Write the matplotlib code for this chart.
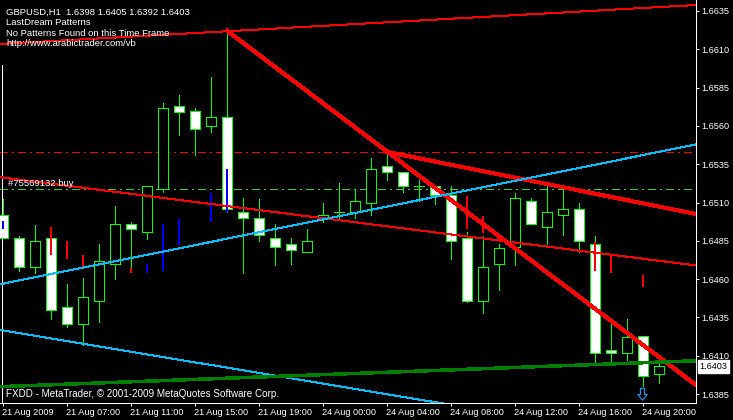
import matplotlib
matplotlib.use('Agg')
import matplotlib.pyplot as plt
import numpy as np
from matplotlib.path import Path
from matplotlib.transforms import offset_copy, ScaledTranslation

W, H, DPI = 733, 420, 100

# ---------------- data ----------------
bars = list(range(42))
opens = [1.6502, 1.6487, 1.6468, 1.6487, 1.6442, 1.6431, 1.6446, 1.6470, 1.6496, 1.6491,
         1.6519, 1.6573, 1.6570, 1.6560, 1.6566, 1.6504, 1.6500, 1.6487, 1.6483, 1.6478,
         1.6500, 1.6504, 1.6504, 1.6510, 1.6534, 1.6530, 1.6521, 1.6521, 1.6515, 1.6487,
         1.6446, 1.6470, 1.6481, 1.6511, 1.6494, 1.6502, 1.6506, 1.6483, 1.6414, 1.6412,
         1.6423, 1.6398]
highs = [1.6512, 1.6488, 1.6495, 1.6487, 1.6457, 1.6461, 1.6483, 1.6508, 1.6497, 1.6521,
         1.6575, 1.6580, 1.6572, 1.6592, 1.6622, 1.6513, 1.6512, 1.6496, 1.6487, 1.6493,
         1.6510, 1.6523, 1.6519, 1.6539, 1.6543, 1.6530, 1.6525, 1.6521, 1.6521, 1.6491,
         1.6488, 1.6483, 1.6516, 1.6513, 1.6521, 1.6519, 1.6510, 1.6488, 1.6431, 1.6434,
         1.6423, 1.6405]
lows = [1.6487, 1.6465, 1.6464, 1.6434, 1.6429, 1.6417, 1.6432, 1.6460, 1.6468, 1.6486,
        1.6517, 1.6554, 1.6541, 1.6556, 1.6504, 1.6464, 1.6485, 1.6469, 1.6470, 1.6478,
        1.6497, 1.6499, 1.6500, 1.6502, 1.6525, 1.6517, 1.6511, 1.6509, 1.6473, 1.6445,
        1.6438, 1.6453, 1.6469, 1.6496, 1.6483, 1.6489, 1.6478, 1.6405, 1.6406, 1.6407,
        1.6390, 1.6392]
closes = [1.6487, 1.6468, 1.6485, 1.6440, 1.6431, 1.6448, 1.6472, 1.6496, 1.6493, 1.6521,
          1.6572, 1.6569, 1.6558, 1.6566, 1.6506, 1.6500, 1.6489, 1.6481, 1.6479, 1.6485,
          1.6502, 1.6504, 1.6511, 1.6532, 1.6530, 1.6521, 1.6521, 1.6515, 1.6485, 1.6446,
          1.6468, 1.6480, 1.6513, 1.6496, 1.6504, 1.6506, 1.6485, 1.6412, 1.6412, 1.6422,
          1.6397, 1.6403]

xtick_bars = [0, 4, 8, 12, 16, 20, 24, 28, 32, 36, 40]
xtick_labels = ['21 Aug 2009', '21 Aug 07:00', '21 Aug 11:00', '21 Aug 15:00',
                '21 Aug 19:00', '24 Aug 00:00', '24 Aug 04:00', '24 Aug 08:00',
                '24 Aug 12:00', '24 Aug 16:00', '24 Aug 20:00']
ytick_values = [1.6385, 1.6410, 1.6435, 1.6460, 1.6485, 1.6510, 1.6535,
                1.6560, 1.6585, 1.6610, 1.6635]

# indicator histogram bars
red_idx = [3, 4, 5, 8, 29, 30, 37, 38, 40]
red_lo = [1.6476, 1.6473, 1.6467, 1.6464, 1.6493, 1.6490, 1.6465, 1.6464, 1.6455]
red_hi = [1.6494, 1.6485, 1.6476, 1.6467, 1.6514, 1.6501, 1.6484, 1.6475, 1.6463]
blue_idx = [0, 9, 10, 11, 13, 14]
blue_lo = [1.6493, 1.6464, 1.6465, 1.6482, 1.6497, 1.6504]
blue_hi = [1.6498, 1.6470, 1.6496, 1.6499, 1.6516, 1.6532]

# trend lines: (bar0, price0, bar1, price1)
thin_red_lines = [(-0.21, 1.66135, 43.29, 1.66389),
                  (-0.21, 1.66808, 43.29, 1.66704),
                  (-0.21, 1.65265, 43.29, 1.64689)]
thick_red_lines = [(14, 1.6622, 43.29, 1.63909),
                   (24, 1.6543, 43.29, 1.65025)]
blue_lines = [(-0.21, 1.64566, 43.29, 1.65479),
              (-0.21, 1.64268, 43.29, 1.63514)]
green_line = (-0.21, 1.63898, 43.29, 1.64067)
red_level = 1.6543
buy_level = 1.6519
arrow_bars = [40]
last_price = 1.6403

# ---------------- figure ----------------
fig = plt.figure(figsize=(W / DPI, H / DPI), dpi=DPI, facecolor='black')
plt.rcParams['font.family'] = ['Liberation Sans', 'DejaVu Sans']
ax = fig.add_axes([0, (H - 403) / H, 696 / W, 403 / H], facecolor='black')
ax.set_xlim(-0.206, 43.29)
ax.set_ylim(1.637913, 1.664218)

LIME = '#00FF00'
px = 0.72  # one pixel in points

# horizontal order levels (behind candles)
ax.axhline(red_level, color='#FF0000', lw=px, dashes=(7.2, 4.3, 1.4, 4.3), zorder=1,
           antialiased=False)
ax.axhline(buy_level, color='#32CD32', lw=px, dashes=(7.2, 4.3, 1.4, 4.3), zorder=1,
           antialiased=False)

# candles
o = np.array(opens); c = np.array(closes)
ax.vlines(bars, lows, highs, colors=LIME, lw=px, zorder=3, antialiased=False)
fills = ['white' if cc < oo else 'black' for oo, cc in zip(o, c)]
ax.bar(bars, np.abs(c - o), bottom=np.minimum(o, c), width=0.62, color=fills,
       edgecolor=LIME, linewidth=px, zorder=4, antialiased=False)

# indicator bars
ax.vlines(red_idx, red_lo, red_hi, colors='#FF0000', lw=2 * px, zorder=5, antialiased=False)
ax.vlines(blue_idx, blue_lo, blue_hi, colors='#0000FF', lw=2 * px, zorder=5, antialiased=False)

# trend lines
for x0, y0, x1, y1 in thin_red_lines:
    ax.plot([x0, x1], [y0, y1], color='#FF0000', lw=px, zorder=6, antialiased=False)
for x0, y0, x1, y1 in thick_red_lines:
    ax.plot([x0, x1], [y0, y1], color='#FF0000', lw=3 * px, zorder=6, antialiased=False)
for x0, y0, x1, y1 in blue_lines:
    ax.plot([x0, x1], [y0, y1], color='#00BFFF', lw=px, zorder=6, antialiased=False)
gx0, gy0, gx1, gy1 = green_line
ax.plot([gx0, gx1], [gy0, gy1], color='#008000', lw=2.5 * px, zorder=6, antialiased=False)

# down arrow below the bar low
arrow_path = Path([(-2, 6), (2, 6), (2, 0), (4.5, 0), (0, -5.5), (-4.5, 0), (-2, 0), (-2, 6)],
                  [Path.MOVETO] + [Path.LINETO] * 6 + [Path.CLOSEPOLY])
arr_tr = offset_copy(ax.transData, fig=fig, x=-1.3, y=-7.5, units='dots')
ax.plot(arrow_bars, [lows[b] for b in arrow_bars], linestyle='none', marker=arrow_path,
        markersize=9, markerfacecolor='black', markeredgecolor='#1EA0FF',
        markeredgewidth=0.8, transform=arr_tr, zorder=7, clip_on=False)

# spines / ticks
for s in ['left', 'top']:
    ax.spines[s].set_visible(False)
for s in ['right', 'bottom']:
    ax.spines[s].set_color('white')
    ax.spines[s].set_linewidth(px)
    ax.spines[s].set_antialiased(False)
ax.yaxis.tick_right()
ax.set_yticks(ytick_values)
ax.set_yticklabels([f'{v:.4f}' for v in ytick_values])
ax.set_xticks(xtick_bars)
ax.set_xticklabels(xtick_labels, ha='left')
ax.tick_params(axis='both', colors='white', labelcolor='white', length=2.2, width=px,
               labelsize=6.6, direction='out')
ax.tick_params(axis='y', pad=1.8)
ax.tick_params(axis='x', pad=1.2)
shift = ScaledTranslation(-1.5 / DPI, 0, fig.dpi_scale_trans)
for lab in ax.get_xticklabels():
    lab.set_transform(lab.get_transform() + shift)

# last price label on the axis
ax.text(1.005, last_price, f'{last_price:.4f}', transform=ax.get_yaxis_transform(),
        ha='left', va='center', fontsize=6.6, color='black', clip_on=False, zorder=10,
        bbox=dict(boxstyle='square,pad=0.18', facecolor='white', edgecolor='white'))

# left white vertical marker
ax.plot([-0.08, -0.08], [1.637913, 1.6600], color='white', lw=px, zorder=2, antialiased=False)

# overlay texts
def fx(p):
    return p / W

def fy(p):
    return 1 - p / H

fig.text(fx(6), fy(14.5), 'GBPUSD,H1  1.6398 1.6405 1.6392 1.6403', color='white',
         fontsize=6.8, va='baseline', ha='left')
fig.text(fx(6), fy(25), 'LastDream Patterns', color='white', fontsize=6.8, va='baseline')
fig.text(fx(6), fy(36), 'No Patterns Found on this Time Frame', color='white',
         fontsize=6.8, va='baseline')
fig.text(fx(6), fy(46.5), 'http://www.arabictrader.com/vb', color='white',
         fontsize=6.8, va='baseline')
fig.text(fx(8), fy(186), '#75569132 buy', color='white', fontsize=6.8, va='baseline')
fig.text(fx(6), fy(397.3), 'FXDD - MetaTrader, \u00a9 2001-2009 MetaQuotes Software Corp.',
         color='white', fontsize=7.1, va='baseline')

fig.savefig('out.png', dpi=DPI, facecolor='black')
